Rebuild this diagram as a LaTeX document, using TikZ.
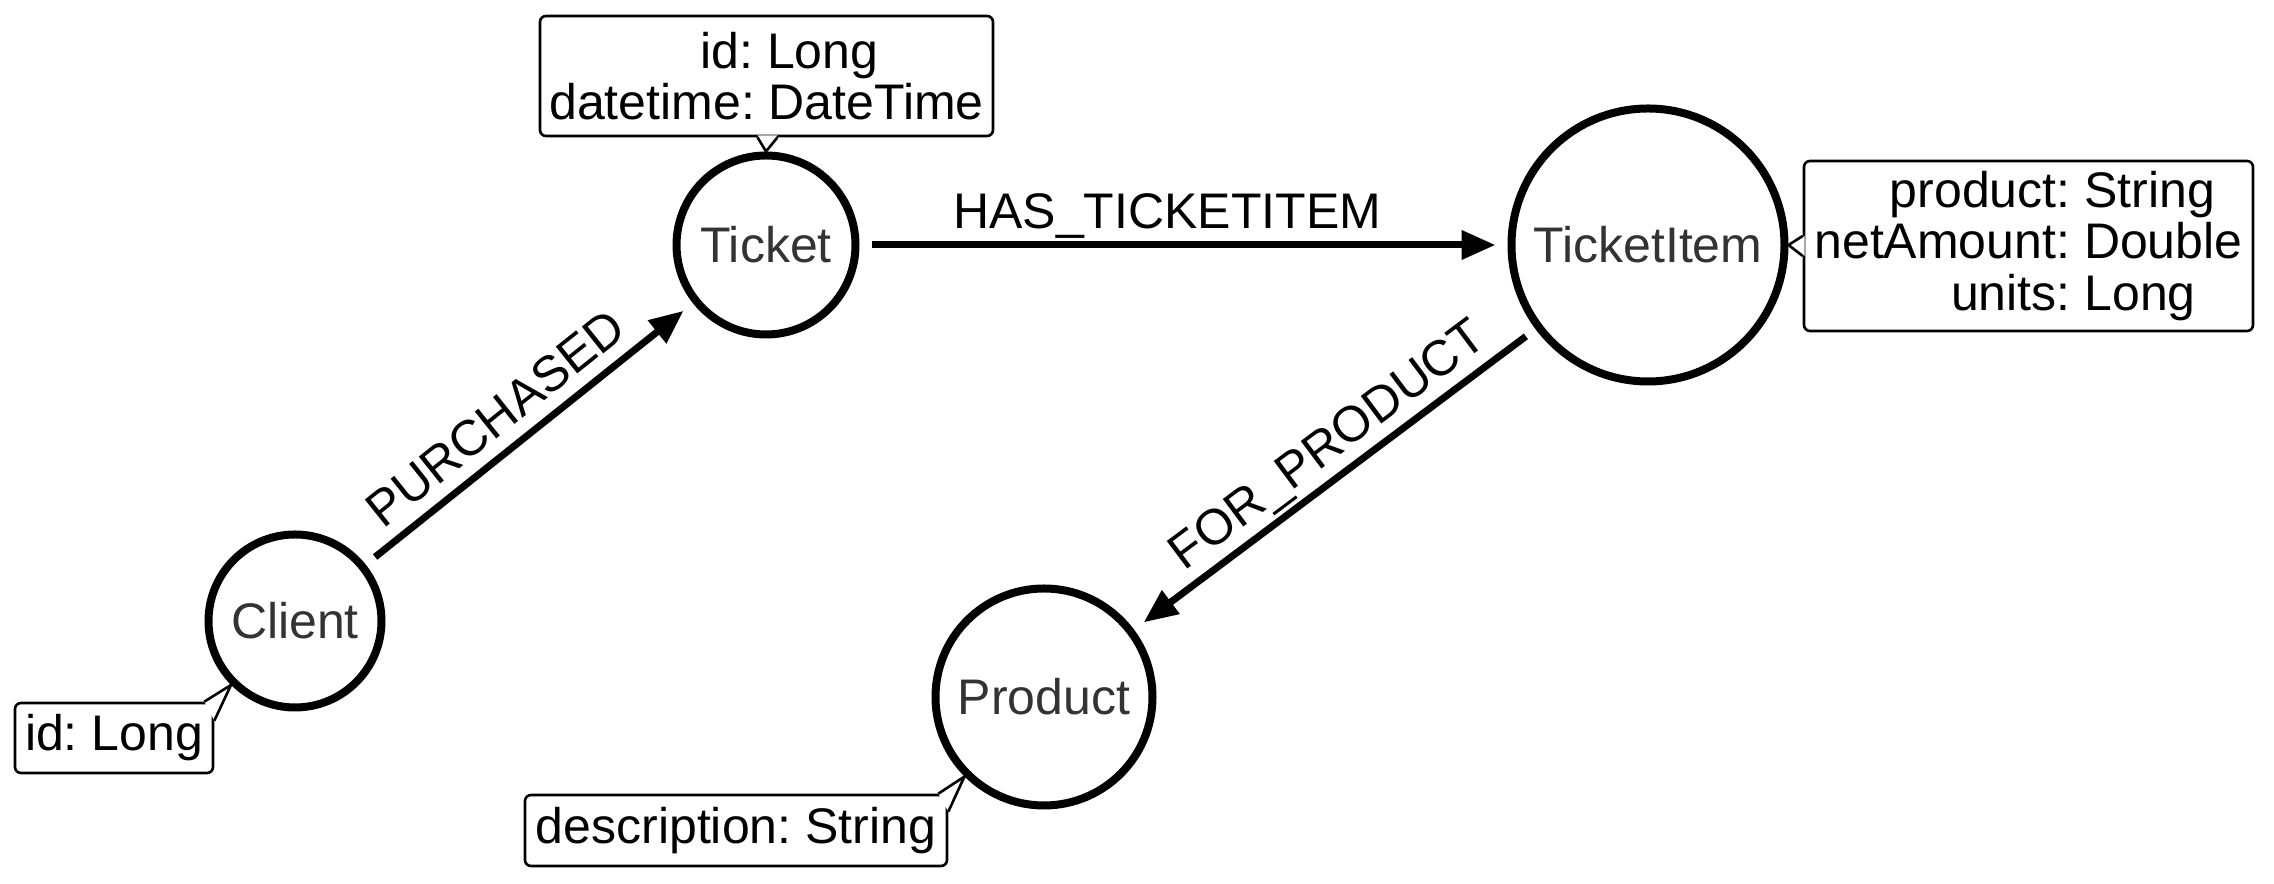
\documentclass[tikz,border=0pt]{standalone}
\usepackage{fontspec}
\setmainfont{Liberation Sans}
\usetikzlibrary{arrows.meta,calc}
\frenchspacing

\begin{document}
\begin{tikzpicture}[x=0.25pt,y=-0.25pt,
    font=\fontsize{12.5}{12.8}\selectfont,
    entity/.style={circle,draw,line width=2pt,inner sep=0pt,text=black!80},
    rel/.style={-{Triangle[length=8.5pt,width=7pt]},line width=1.75pt,shorten <=3pt,shorten >=3pt},
    rellabel/.style={sloped,inner sep=0pt,text depth=0pt,above=3.25pt},
    props/.style={draw,fill=white,line width=0.65pt,rounded corners=1.5pt,align=center,inner sep=1pt},
    pointer/.style={line width=0.65pt}]
    \useasboundingbox (0,0) rectangle (2274,884);

    % Draw the entities
    \node[entity,minimum size=43.25pt] (client) at (295,621) {Client};
    \node[entity,minimum size=44.75pt] (ticket) at (766,245) {Ticket};
    \node[entity,minimum size=68.25pt] (ticketitem) at (1648,245) {TicketItem};
    \node[entity,minimum size=54.25pt] (product) at (1044,697) {Product};

    % Draw the relationships
    \draw[rel] (client) -- (ticket) node[rellabel,pos=0.46] {PURCHASED};
    \draw[rel] (ticket) -- (ticketitem) node[rellabel,pos=0.475] {HAS\_TICKETITEM};
    \draw[rel] (ticketitem) -- (product) node[rellabel,pos=0.47] {FOR\_PRODUCT};

    % Property boxes
    \node[props,minimum width=113.25pt,minimum height=30pt] (ticketprops) at (766.5,76)
        {\hspace*{11.5pt}id: Long\\datetime: DateTime};
    \fill[white] ($(ticketprops.south)+(-9,-2)$) -- (ticket.north) -- ($(ticketprops.south)+(11,-2)$) -- cycle;
    \draw[pointer] ($(ticketprops.south)+(-9,0)$) -- (ticket.north) -- ($(ticketprops.south)+(11,0)$);

    \node[props,minimum width=112.25pt,minimum height=42.5pt] (ticketitemprops) at (2028.5,246)
        {\hspace*{12pt}product: String\\netAmount: Double\\\hspace*{22.5pt}units: Long};
    \fill[white] ($(ticketitemprops.west)+(2,-10)$) -- (ticketitem.east) -- ($(ticketitemprops.west)+(2,10)$) -- cycle;
    \draw[pointer] ($(ticketitemprops.west)+(0,-10)$) -- (ticketitem.east) -- ($(ticketitemprops.west)+(0,10)$);

    \node[props,minimum width=49.5pt,minimum height=17.5pt] (clientprops) at (114,738) {id: Long};
    \fill[white] ($(clientprops.north east)+(-10,0)$) -- (client.225) -- ($(clientprops.north east)+(0,19)$) -- cycle;
    \draw[pointer] ($(clientprops.north east)+(-10,0)$) -- (client.225) -- ($(clientprops.north east)+(0,19)$);

    \node[props,minimum width=105.5pt,minimum height=17.75pt] (productprops) at (736,830.5) {description: String};
    \fill[white] ($(productprops.north east)+(-10,0)$) -- (product.225) -- ($(productprops.north east)+(0,18)$) -- cycle;
    \draw[pointer] ($(productprops.north east)+(-10,0)$) -- (product.225) -- ($(productprops.north east)+(0,18)$);
\end{tikzpicture}
\end{document}
